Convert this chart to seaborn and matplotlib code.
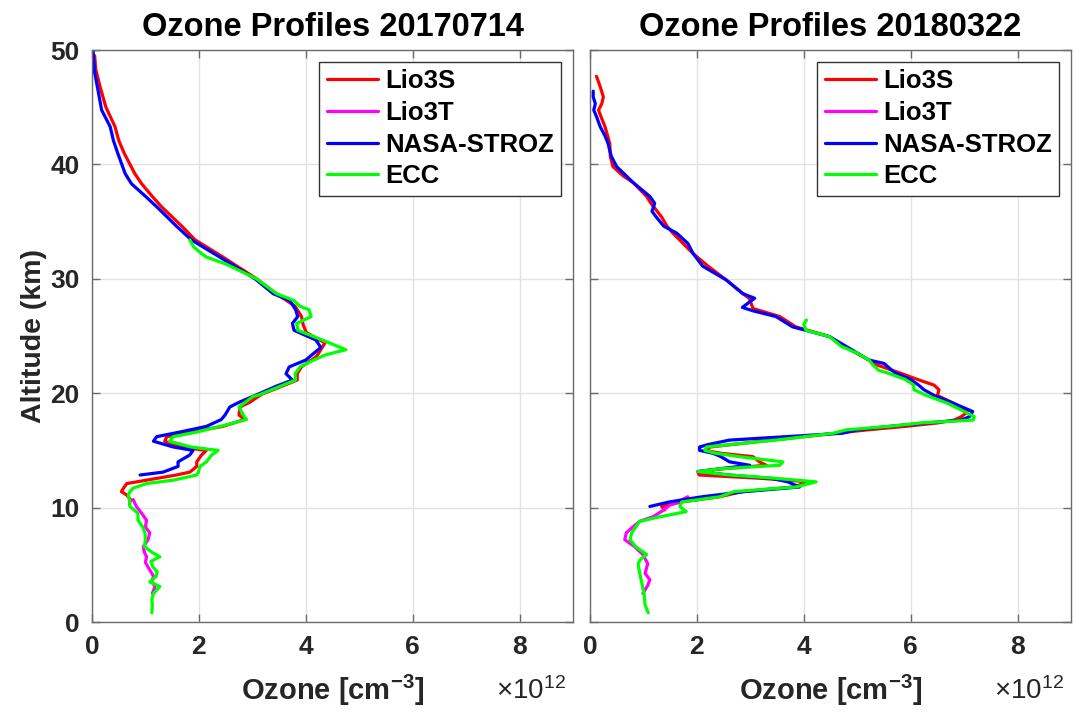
import numpy as np
import pandas as pd
import matplotlib
matplotlib.use("Agg")
import matplotlib.pyplot as plt
import seaborn as sns

# ---------------- data (ozone in 1e12 cm^-3, altitude in km) ----------------
titles = ["Ozone Profiles 20170714", "Ozone Profiles 20180322"]
instruments = ["Lio3S", "Lio3T", "NASA-STROZ", "ECC"]
colors = ["#ff0000", "#ff00ff", "#0000ff", "#00ff00"]

# Panel 1: 20170714
p1_lio3s_alt = [49.5, 48.3, 46.8, 45.0, 44.0, 43.3, 42.1, 41.0, 40.1, 39.2, 38.3, 37.3, 36.3, 34.6, 33.4, 31.9,
                30.0, 28.7, 27.6, 26.7, 26.0, 25.3, 24.4, 23.2, 22.3, 21.7, 21.15, 20.6, 19.9, 19.2, 18.8, 18.1,
                17.7, 17.1, 16.6, 16.2, 15.8, 15.3, 15.0, 14.6, 14.0, 13.6, 13.1, 12.85, 12.4, 12.1, 11.7, 11.4,
                11.1, 10.7, 10.3]
p1_lio3s_oz = [0.05, 0.07, 0.15, 0.26, 0.36, 0.43, 0.50, 0.60, 0.70, 0.80, 0.93, 1.11, 1.30, 1.68, 1.93, 2.45,
               3.08, 3.45, 3.80, 3.92, 3.95, 4.01, 4.36, 4.20, 3.92, 3.84, 3.84, 3.55, 3.17, 2.95, 2.77, 2.75,
               2.85, 2.45, 1.83, 1.40, 1.36, 1.65, 2.14, 2.05, 1.96, 1.96, 1.83, 1.58, 1.02, 0.65, 0.59, 0.55,
               0.65, 0.72, 0.70]

p1_lio3t_alt = [10.7, 10.1, 9.5, 8.9, 8.3, 7.8, 7.2, 6.6, 6.1, 5.7, 5.2, 4.8, 4.4, 4.0, 3.5, 3.1, 2.5]
p1_lio3t_oz = [0.77, 0.83, 0.93, 1.02, 1.00, 1.08, 1.05, 0.96, 0.98, 1.02, 1.00, 1.05, 1.10, 1.15, 1.12, 1.18, 1.13]

p1_nasa_alt = [50.0, 48.0, 46.8, 44.75, 43.3, 42.1, 41.0, 40.1, 39.2, 38.3, 37.3, 36.3, 34.6, 33.4, 31.9, 30.0,
               28.7, 28.1, 27.3, 26.7, 26.1, 25.5, 24.65, 24.0, 22.9, 22.3, 21.7, 21.15, 20.6, 19.9, 19.2, 18.8,
               18.1, 17.7, 17.1, 16.6, 16.2, 15.8, 15.3, 15.0, 14.6, 14.0, 13.6, 13.1, 12.85]
p1_nasa_oz = [0.02, 0.05, 0.10, 0.18, 0.34, 0.40, 0.48, 0.55, 0.62, 0.74, 0.98, 1.21, 1.58, 1.86, 2.39, 3.05,
              3.39, 3.70, 3.81, 3.85, 3.75, 3.78, 4.19, 4.28, 4.00, 3.69, 3.63, 3.75, 3.44, 3.10, 2.75, 2.58,
              2.49, 2.42, 2.14, 1.64, 1.21, 1.15, 1.52, 1.89, 1.83, 1.61, 1.61, 1.33, 0.90]

p1_ecc_alt = [33.4, 32.8, 32.2, 31.9, 31.3, 30.0, 28.7, 28.1, 27.6, 27.3, 26.7, 26.1, 25.5, 24.65, 23.8, 23.35,
              22.9, 22.3, 21.7, 21.15, 20.6, 19.9, 19.7, 18.8, 18.1, 17.7, 17.1, 16.6, 16.2, 15.8, 15.3, 15.0,
              14.6, 14.0, 13.6, 13.1, 12.85, 12.4, 12.1, 11.7, 11.4, 11.1, 10.7, 10.1, 9.5, 8.9, 8.3, 7.8, 7.2,
              6.6, 6.1, 5.7, 5.3, 4.8, 4.4, 4.0, 3.5, 3.1, 2.5, 2.0, 1.5, 0.8]
p1_ecc_oz = [1.83, 1.90, 2.05, 2.14, 2.50, 3.08, 3.45, 3.78, 3.89, 4.06, 4.10, 3.83, 3.85, 4.31, 4.75, 4.37,
             4.15, 3.89, 3.80, 3.81, 3.52, 3.15, 3.01, 2.75, 2.83, 2.89, 2.40, 1.96, 1.52, 1.45, 1.85, 2.36,
             2.24, 2.14, 2.02, 1.99, 1.96, 1.52, 1.02, 0.77, 0.71, 0.68, 0.70, 0.71, 0.86, 0.86, 0.95, 0.99, 1.00,
             0.98, 1.12, 1.27, 1.10, 1.14, 1.22, 1.20, 1.08, 1.27, 1.15, 1.12, 1.13, 1.12]

# Panel 2: 20180322
p2_lio3s_alt = [47.7, 47.2, 46.8, 45.9, 45.3, 44.75, 44.0, 43.3, 42.5, 41.8, 40.7, 39.8, 39.0, 38.4, 37.2, 36.6,
                35.4, 34.6, 34.0, 33.1, 32.2, 31.1, 29.9, 28.7, 28.3, 27.4, 26.7, 25.8, 24.95, 24.1, 22.9, 22.5,
                21.8, 21.2, 20.7, 20.3, 19.8, 19.1, 18.4, 17.95, 17.65, 17.4, 17.1, 16.8, 16.35, 15.9, 15.3,
                15.0, 14.75, 14.45, 14.0, 13.7, 13.4, 13.15, 12.85, 12.55, 12.25, 11.8, 11.4, 10.95, 10.5,
                10.1, 9.8]
p2_lio3s_oz = [0.12, 0.16, 0.19, 0.25, 0.22, 0.16, 0.22, 0.28, 0.33, 0.37, 0.38, 0.43, 0.62, 0.81, 1.06, 1.14,
               1.34, 1.44, 1.55, 1.74, 1.93, 2.21, 2.55, 2.86, 2.98, 3.05, 3.55, 3.85, 4.48, 4.75, 5.22, 5.35,
               5.78, 6.13, 6.44, 6.53, 6.50, 6.81, 7.07, 6.95, 6.81, 6.50, 5.90, 5.20, 4.30, 3.40, 2.25,
               2.15, 2.45, 3.05, 3.17, 3.30, 2.50, 2.02, 2.04, 3.23, 4.10, 3.80, 2.85, 2.43, 1.72,
               1.34, 1.40]

p2_lio3t_alt = [10.95, 10.5, 10.2, 9.7, 9.2, 8.8, 8.3, 7.8, 7.2, 6.6, 5.9, 5.1, 4.25, 3.7, 3.2, 2.5]
p2_lio3t_oz = [1.83, 1.65, 1.49, 1.35, 1.18, 0.93, 0.80, 0.68, 0.65, 0.83, 0.99, 1.08, 1.03, 1.12, 1.08, 0.99]

p2_nasa_alt = [46.4, 45.9, 45.3, 44.75, 44.2, 43.3, 42.5, 41.8, 41.2, 40.7, 39.8, 38.4, 37.2, 36.6, 35.9, 35.4,
               34.6, 34.0, 33.1, 32.2, 31.1, 29.9, 28.7, 28.3, 27.5, 27.2, 26.7, 25.8, 24.95, 24.1, 22.9, 22.6,
               21.8, 21.2, 20.7, 20.3, 19.8, 19.1, 18.4, 17.95, 17.65, 17.4, 17.1, 16.8, 16.5, 15.9, 15.5,
               15.3, 15.0, 14.75, 14.45, 14.0, 13.7, 13.4, 13.15, 12.85, 12.55, 12.25, 11.8, 11.4, 10.95,
               10.5, 10.1]
p2_nasa_oz = [0.06, 0.06, 0.10, 0.07, 0.12, 0.19, 0.28, 0.34, 0.37, 0.40, 0.50, 0.81, 1.12, 1.21, 1.16, 1.24,
              1.38, 1.62, 1.83, 1.93, 2.11, 2.55, 2.86, 3.08, 2.85, 3.05, 3.48, 3.79, 4.48, 4.79, 5.22, 5.50,
              5.70, 6.00, 6.15, 6.25, 6.44, 6.81, 7.16, 7.10, 6.95, 6.30, 5.60, 5.00, 4.72, 2.61, 2.20,
              2.05, 2.05, 2.30, 2.45, 2.61, 2.99, 2.43, 2.02, 2.60, 3.40, 3.70, 3.92, 2.90, 2.10,
              1.49, 1.12]

p2_ecc_alt = [26.4, 26.0, 25.5, 24.95, 24.1, 23.5, 22.9, 22.5, 22.0, 21.8, 21.2, 20.7, 20.3, 19.8, 19.1, 18.4,
              17.95, 17.65, 17.4, 17.1, 16.8, 16.5, 15.9, 15.5, 15.3, 15.0, 14.75, 14.45, 14.0, 13.7, 13.4,
              13.15, 12.85, 12.55, 12.25, 11.8, 11.4, 10.95, 10.5, 10.1, 9.65, 9.2, 8.8, 7.8, 7.2, 6.6, 5.9,
              5.5, 5.1, 4.25, 3.2, 2.5, 1.5, 0.8]
p2_ecc_oz = [4.05, 4.00, 4.04, 4.48, 4.70, 5.00, 5.22, 5.29, 5.40, 5.55, 5.90, 6.06, 6.06, 6.30, 6.70, 7.00,
             7.19, 7.17, 6.19, 5.60, 4.80, 4.55, 3.48, 2.60, 2.18, 2.15, 2.35, 2.80, 3.61, 3.55, 2.45,
             2.02, 2.60, 3.50, 4.23, 3.85, 2.70, 2.43, 1.72, 1.68, 1.80, 1.31, 0.93, 0.78, 0.75, 0.85, 1.06,
             0.95, 0.90, 0.93, 0.98, 1.01, 1.03, 1.09]

x_ticks = [0, 2, 4, 6, 8]
y_ticks = [0, 10, 20, 30, 40, 50]

panels = [
    [(p1_lio3s_oz, p1_lio3s_alt), (p1_lio3t_oz, p1_lio3t_alt), (p1_nasa_oz, p1_nasa_alt), (p1_ecc_oz, p1_ecc_alt)],
    [(p2_lio3s_oz, p2_lio3s_alt), (p2_lio3t_oz, p2_lio3t_alt), (p2_nasa_oz, p2_nasa_alt), (p2_ecc_oz, p2_ecc_alt)],
]

# ---------------- style ----------------
sns.set_theme(style="whitegrid")
plt.rcParams['font.family'] = ['Liberation Sans', 'DejaVu Sans']
plt.rcParams['font.weight'] = 'bold'
plt.rcParams['mathtext.default'] = 'regular'

W, H = 1075, 720
fig = plt.figure(figsize=(W / 100, H / 100), dpi=100)
ax_rects = [
    [92 / W, 1 - 622 / H, (573 - 92) / W, (622 - 50) / H],
    [590 / W, 1 - 622 / H, (1071 - 590) / W, (622 - 50) / H],
]

dark = "#262626"
for i, (rect, title, series) in enumerate(zip(ax_rects, titles, panels)):
    ax = fig.add_axes(rect)
    frames = []
    for inst, (oz, alt) in zip(instruments, series):
        frames.append(pd.DataFrame({"ozone": oz, "alt": alt, "instrument": inst}))
    df = pd.concat(frames, ignore_index=True)
    sns.lineplot(data=df, x="ozone", y="alt", hue="instrument", hue_order=instruments,
                 palette=colors, sort=False, estimator=None, lw=2.3, ax=ax)
    ax.set_xlim(0, 9)
    ax.set_ylim(0, 50)
    ax.set_xticks(x_ticks)
    ax.set_yticks(y_ticks)
    ax.grid(True, color="#e3e3e3", lw=1)
    for sp in ax.spines.values():
        sp.set_color("#6b6b6b")
        sp.set_linewidth(1.0)
    ax.tick_params(direction="in", length=6, width=1, color="#6b6b6b",
                   top=True, right=True, bottom=True, left=True,
                   labelsize=19, labelcolor=dark, pad=9)
    for lab in ax.get_xticklabels() + ax.get_yticklabels():
        lab.set_fontweight("bold")
    if i == 0:
        ax.set_ylabel("Altitude (km)", fontsize=20.5, fontweight="bold", color=dark, labelpad=2)
    else:
        ax.set_ylabel("")
        ax.set_yticklabels([])
    ax.set_xlabel("Ozone [cm$^{-3}$]", fontsize=21, fontweight="bold", color=dark, labelpad=10)
    ax.text(0.985, -0.12, r"$\times$10$^{12}$", transform=ax.transAxes, ha="right", va="center",
            fontsize=20, fontweight="normal", color=dark)
    ax.set_title(title, fontsize=23.5, fontweight="bold", color="black", pad=10)
    handles, labels = ax.get_legend_handles_labels()
    leg = ax.legend(handles, labels, loc="upper right", fontsize=18.5, frameon=True, fancybox=False,
                    framealpha=1, edgecolor="#333333", handlelength=2.0, handletextpad=0.25,
                    borderpad=0.3, labelspacing=0.3, borderaxespad=0.45)
    leg.get_frame().set_linewidth(1.0)
    for t in leg.get_texts():
        t.set_fontweight("bold")
        t.set_color("black")

fig.savefig("out.png", dpi=100)
